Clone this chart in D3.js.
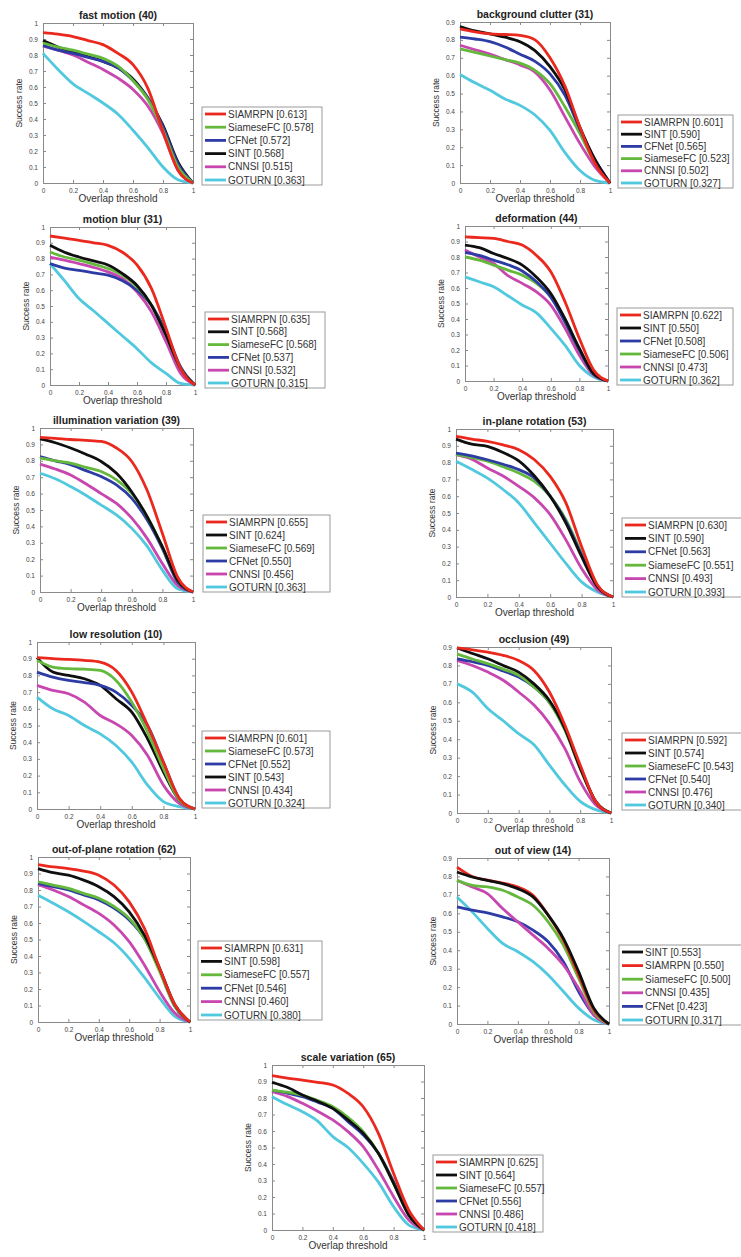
<!DOCTYPE html>
<html>
<head>
<meta charset="utf-8">
<script src="https://cdn.jsdelivr.net/npm/d3@7/dist/d3.min.js"></script>
<style>
body { margin: 0; background: #fff; }
svg { display: block; font-family: "Liberation Sans", Arial, sans-serif; }
</style>
</head>
<body>
<svg id="chart" width="741" height="1257"></svg>
<script>
// overlap thresholds sampled on the x axis
var thresholds = [0, 0.1, 0.2, 0.3, 0.4, 0.5, 0.6, 0.7, 0.8, 0.9, 1]
var xTickValues = [0, 0.2, 0.4, 0.6, 0.8, 1]

// success rate per tracker, legend order: [name, auc, values]
var fastMotion = [
	["SIAMRPN", 0.613, [0.94, 0.93, 0.915, 0.89, 0.865, 0.81, 0.74, 0.59, 0.32, 0.08, 0]],
	["SiameseFC", 0.578, [0.875, 0.85, 0.83, 0.805, 0.78, 0.73, 0.64, 0.52, 0.33, 0.10, 0]],
	["CFNet", 0.572, [0.86, 0.83, 0.81, 0.785, 0.76, 0.72, 0.64, 0.53, 0.35, 0.12, 0]],
	["SINT", 0.568, [0.89, 0.85, 0.82, 0.79, 0.76, 0.72, 0.65, 0.53, 0.36, 0.13, 0]],
	["CNNSI", 0.515, [0.855, 0.83, 0.80, 0.755, 0.71, 0.655, 0.585, 0.48, 0.31, 0.08, 0]],
	["GOTURN", 0.363, [0.81, 0.71, 0.62, 0.56, 0.50, 0.43, 0.33, 0.22, 0.10, 0.02, 0]]
]
var backgroundClutter = [
	["SIAMRPN", 0.601, [0.862, 0.845, 0.834, 0.83, 0.825, 0.80, 0.70, 0.54, 0.31, 0.11, 0]],
	["SINT", 0.590, [0.875, 0.85, 0.834, 0.815, 0.79, 0.74, 0.65, 0.52, 0.31, 0.13, 0]],
	["CFNet", 0.565, [0.816, 0.805, 0.79, 0.76, 0.72, 0.68, 0.61, 0.49, 0.30, 0.13, 0]],
	["SiameseFC", 0.523, [0.75, 0.73, 0.71, 0.69, 0.67, 0.63, 0.555, 0.425, 0.275, 0.11, 0]],
	["CNNSI", 0.502, [0.77, 0.745, 0.72, 0.69, 0.66, 0.62, 0.52, 0.37, 0.22, 0.09, 0]],
	["GOTURN", 0.327, [0.607, 0.56, 0.518, 0.47, 0.434, 0.38, 0.294, 0.17, 0.07, 0.015, 0]]
]
var motionBlur = [
	["SIAMRPN", 0.635, [0.943, 0.93, 0.916, 0.90, 0.884, 0.84, 0.76, 0.61, 0.36, 0.105, 0]],
	["SINT", 0.568, [0.884, 0.84, 0.81, 0.785, 0.76, 0.705, 0.63, 0.505, 0.315, 0.105, 0]],
	["SiameseFC", 0.568, [0.842, 0.81, 0.79, 0.765, 0.737, 0.695, 0.62, 0.505, 0.315, 0.105, 0]],
	["CFNet", 0.537, [0.768, 0.74, 0.726, 0.71, 0.695, 0.66, 0.60, 0.505, 0.337, 0.116, 0]],
	["CNNSI", 0.532, [0.81, 0.79, 0.768, 0.745, 0.716, 0.674, 0.59, 0.463, 0.274, 0.074, 0]],
	["GOTURN", 0.315, [0.768, 0.66, 0.547, 0.47, 0.39, 0.31, 0.23, 0.14, 0.074, 0.01, 0]]
]
var deformation = [
	["SIAMRPN", 0.622, [0.93, 0.925, 0.92, 0.90, 0.877, 0.81, 0.705, 0.51, 0.274, 0.07, 0]],
	["SINT", 0.550, [0.877, 0.86, 0.823, 0.79, 0.748, 0.67, 0.565, 0.40, 0.21, 0.047, 0]],
	["CFNet", 0.508, [0.83, 0.81, 0.78, 0.75, 0.71, 0.64, 0.54, 0.38, 0.20, 0.045, 0]],
	["SiameseFC", 0.506, [0.80, 0.78, 0.748, 0.715, 0.683, 0.63, 0.543, 0.38, 0.20, 0.047, 0]],
	["CNNSI", 0.473, [0.845, 0.80, 0.758, 0.68, 0.63, 0.575, 0.49, 0.34, 0.166, 0.037, 0]],
	["GOTURN", 0.362, [0.672, 0.64, 0.608, 0.55, 0.49, 0.44, 0.34, 0.23, 0.10, 0.026, 0]]
]
var illumination = [
	["SIAMRPN", 0.655, [0.943, 0.937, 0.93, 0.925, 0.918, 0.878, 0.796, 0.62, 0.357, 0.09, 0]],
	["SINT", 0.624, [0.933, 0.91, 0.878, 0.84, 0.796, 0.724, 0.61, 0.46, 0.275, 0.07, 0]],
	["SiameseFC", 0.569, [0.816, 0.80, 0.786, 0.76, 0.735, 0.684, 0.60, 0.46, 0.275, 0.07, 0]],
	["CFNet", 0.550, [0.826, 0.80, 0.776, 0.74, 0.704, 0.653, 0.571, 0.44, 0.265, 0.06, 0]],
	["CNNSI", 0.456, [0.78, 0.75, 0.714, 0.66, 0.60, 0.54, 0.45, 0.327, 0.173, 0.04, 0]],
	["GOTURN", 0.363, [0.724, 0.69, 0.643, 0.59, 0.53, 0.47, 0.388, 0.28, 0.133, 0.02, 0]]
]
var inPlane = [
	["SIAMRPN", 0.630, [0.956, 0.94, 0.926, 0.905, 0.877, 0.817, 0.718, 0.56, 0.30, 0.073, 0]],
	["SINT", 0.590, [0.94, 0.91, 0.897, 0.86, 0.81, 0.72, 0.60, 0.44, 0.24, 0.063, 0]],
	["CFNet", 0.563, [0.857, 0.84, 0.817, 0.79, 0.758, 0.708, 0.60, 0.45, 0.25, 0.063, 0]],
	["SiameseFC", 0.551, [0.847, 0.83, 0.808, 0.775, 0.738, 0.688, 0.60, 0.46, 0.26, 0.063, 0]],
	["CNNSI", 0.493, [0.847, 0.82, 0.768, 0.72, 0.659, 0.59, 0.49, 0.34, 0.17, 0.044, 0]],
	["GOTURN", 0.393, [0.808, 0.76, 0.708, 0.64, 0.56, 0.44, 0.32, 0.20, 0.09, 0.03, 0]]
]
var lowResolution = [
	["SIAMRPN", 0.601, [0.906, 0.90, 0.896, 0.89, 0.88, 0.83, 0.70, 0.50, 0.28, 0.064, 0]],
	["SiameseFC", 0.573, [0.89, 0.85, 0.84, 0.837, 0.83, 0.77, 0.64, 0.46, 0.243, 0.054, 0]],
	["CFNet", 0.552, [0.82, 0.79, 0.77, 0.757, 0.74, 0.70, 0.62, 0.50, 0.28, 0.064, 0]],
	["SINT", 0.543, [0.906, 0.82, 0.80, 0.78, 0.74, 0.66, 0.58, 0.42, 0.223, 0.054, 0]],
	["CNNSI", 0.434, [0.74, 0.71, 0.69, 0.64, 0.56, 0.51, 0.44, 0.32, 0.143, 0.034, 0]],
	["GOTURN", 0.324, [0.67, 0.60, 0.56, 0.50, 0.45, 0.38, 0.28, 0.143, 0.044, 0.014, 0]]
]
var occlusion = [
	["SIAMRPN", 0.592, [0.895, 0.885, 0.872, 0.855, 0.827, 0.773, 0.656, 0.477, 0.26, 0.063, 0]],
	["SINT", 0.574, [0.895, 0.865, 0.836, 0.80, 0.764, 0.70, 0.61, 0.459, 0.243, 0.063, 0]],
	["SiameseFC", 0.543, [0.863, 0.835, 0.81, 0.78, 0.746, 0.683, 0.60, 0.45, 0.243, 0.063, 0]],
	["CFNet", 0.540, [0.836, 0.82, 0.80, 0.77, 0.737, 0.683, 0.60, 0.459, 0.252, 0.063, 0]],
	["CNNSI", 0.476, [0.827, 0.80, 0.764, 0.72, 0.656, 0.585, 0.486, 0.35, 0.17, 0.045, 0]],
	["GOTURN", 0.340, [0.70, 0.655, 0.567, 0.50, 0.43, 0.37, 0.26, 0.153, 0.063, 0.018, 0]]
]
var outOfPlane = [
	["SIAMRPN", 0.631, [0.954, 0.94, 0.93, 0.915, 0.89, 0.83, 0.728, 0.567, 0.326, 0.105, 0]],
	["SINT", 0.598, [0.93, 0.905, 0.89, 0.86, 0.82, 0.76, 0.668, 0.527, 0.326, 0.105, 0]],
	["SiameseFC", 0.557, [0.85, 0.83, 0.81, 0.78, 0.75, 0.70, 0.628, 0.507, 0.306, 0.095, 0]],
	["CFNet", 0.546, [0.84, 0.82, 0.80, 0.77, 0.74, 0.69, 0.618, 0.507, 0.316, 0.095, 0]],
	["CNNSI", 0.460, [0.833, 0.80, 0.76, 0.71, 0.658, 0.588, 0.487, 0.346, 0.185, 0.054, 0]],
	["GOTURN", 0.380, [0.768, 0.72, 0.668, 0.61, 0.547, 0.48, 0.386, 0.27, 0.145, 0.034, 0]]
]
var outOfView = [
	["SINT", 0.553, [0.824, 0.797, 0.779, 0.761, 0.734, 0.689, 0.59, 0.464, 0.284, 0.086, 0]],
	["SIAMRPN", 0.550, [0.851, 0.80, 0.78, 0.764, 0.743, 0.698, 0.59, 0.455, 0.266, 0.077, 0]],
	["SiameseFC", 0.500, [0.779, 0.752, 0.743, 0.725, 0.689, 0.644, 0.554, 0.428, 0.248, 0.068, 0]],
	["CNNSI", 0.435, [0.779, 0.743, 0.707, 0.626, 0.554, 0.482, 0.41, 0.32, 0.194, 0.05, 0]],
	["CFNet", 0.423, [0.635, 0.617, 0.603, 0.581, 0.554, 0.509, 0.446, 0.338, 0.176, 0.05, 0]],
	["GOTURN", 0.317, [0.689, 0.608, 0.518, 0.437, 0.392, 0.338, 0.266, 0.176, 0.086, 0.023, 0]]
]
var scaleVariation = [
	["SIAMRPN", 0.625, [0.935, 0.92, 0.909, 0.895, 0.879, 0.828, 0.747, 0.586, 0.343, 0.12, 0]],
	["SINT", 0.564, [0.895, 0.865, 0.818, 0.78, 0.737, 0.667, 0.586, 0.465, 0.283, 0.09, 0]],
	["SiameseFC", 0.557, [0.848, 0.835, 0.818, 0.785, 0.747, 0.683, 0.596, 0.465, 0.283, 0.09, 0]],
	["CFNet", 0.556, [0.848, 0.83, 0.808, 0.775, 0.737, 0.657, 0.576, 0.465, 0.293, 0.10, 0]],
	["CNNSI", 0.486, [0.838, 0.81, 0.768, 0.72, 0.667, 0.596, 0.505, 0.364, 0.202, 0.06, 0]],
	["GOTURN", 0.418, [0.808, 0.76, 0.717, 0.66, 0.566, 0.50, 0.404, 0.29, 0.141, 0.03, 0]]
]

var panelTitles = ["fast motion (40)", "background clutter (31)", "motion blur (31)", "deformation (44)",
	"illumination variation (39)", "in-plane rotation (53)", "low resolution (10)", "occlusion (49)",
	"out-of-plane rotation (62)", "out of view (14)", "scale variation (65)"]
var panelSeries = [fastMotion, backgroundClutter, motionBlur, deformation, illumination, inPlane,
	lowResolution, occlusion, outOfPlane, outOfView, scaleVariation]
var panelYMax = [1, 0.9, 1, 1, 1, 1, 1, 0.9, 1, 0.9, 1]

// styles
var colors = {SIAMRPN: "rgb(235, 40, 30)", SINT: "rgb(15, 15, 15)", CFNet: "rgb(45, 60, 165)",
	SiameseFC: "rgb(100, 185, 60)", CNNSI: "rgb(200, 70, 175)", GOTURN: "rgb(80, 200, 222)"}

// layout of each axes box and legend box (pixels)
var boxes = [
	{x0: 43, x1: 193, yTop: 23, yBot: 183, lx: 202, ly: 107, lw: 120, lh: 78},
	{x0: 460, x1: 610, yTop: 22, yBot: 183, lx: 618, ly: 115, lw: 115, lh: 73},
	{x0: 50, x1: 195, yTop: 227, yBot: 385, lx: 205, ly: 312, lw: 120, lh: 76},
	{x0: 465, x1: 608, yTop: 226, yBot: 381, lx: 617, ly: 308, lw: 116, lh: 77},
	{x0: 40, x1: 193, yTop: 428, yBot: 592, lx: 203, ly: 515, lw: 127, lh: 77},
	{x0: 456, x1: 613, yTop: 429, yBot: 597, lx: 622, ly: 518, lw: 125, lh: 79},
	{x0: 37, x1: 195, yTop: 642, yBot: 809, lx: 202, ly: 731, lw: 128, lh: 77},
	{x0: 457, x1: 611, yTop: 647, yBot: 813, lx: 622, ly: 733, lw: 125, lh: 77},
	{x0: 38, x1: 190, yTop: 857, yBot: 1022, lx: 198, ly: 941, lw: 124, lh: 79},
	{x0: 457, x1: 609, yTop: 858, yBot: 1024, lx: 619, ly: 945, lw: 125, lh: 80},
	{x0: 272, x1: 424, yTop: 1065, yBot: 1230, lx: 433, ly: 1155, lw: 110, lh: 77}
]

var svg = d3.select("#chart")
svg.append("rect").attr("width", 741).attr("height", 1257).attr("fill", "#fff")

panelSeries.forEach(function(series, i) {
	var b = boxes[i]
	var yMax = panelYMax[i]
	var xScale = d3.scaleLinear().domain([0, 1]).range([b.x0, b.x1])
	var yScale = d3.scaleLinear().domain([0, yMax]).range([b.yBot, b.yTop])
	var yTickValues = d3.range(0, Math.round(yMax * 10) + 1).map(k => k / 10)
	var fmt = v => v === 0 ? "0" : (v === 1 ? "1" : v.toFixed(1))

	var g = svg.append("g").attr("class", "panel")

	// axes, ticks pointing inward on all four sides
	g.append("g").attr("transform", "translate(0," + b.yBot + ")")
		.call(d3.axisBottom(xScale).tickValues(xTickValues).tickSizeInner(-3).tickSizeOuter(0).tickPadding(5).tickFormat(fmt))
	g.append("g").attr("transform", "translate(0," + b.yTop + ")")
		.call(d3.axisTop(xScale).tickValues(xTickValues).tickSizeInner(-3).tickSizeOuter(0).tickFormat(""))
	g.append("g").attr("transform", "translate(" + b.x0 + ",0)")
		.call(d3.axisLeft(yScale).tickValues(yTickValues).tickSizeInner(-3).tickSizeOuter(0).tickPadding(5).tickFormat(fmt))
	g.append("g").attr("transform", "translate(" + b.x1 + ",0)")
		.call(d3.axisRight(yScale).tickValues(yTickValues).tickSizeInner(-3).tickSizeOuter(0).tickFormat(""))

	g.selectAll(".domain").attr("stroke", "#8a8a8a")
	g.selectAll(".tick line").attr("stroke", "#8a8a8a")
	g.selectAll(".tick text").attr("font-size", "6.5px").attr("fill", "#444").attr("font-family", "Liberation Sans, Arial, sans-serif")

	// curves, first legend entry on top
	var line = d3.line()
		.x((d, k) => xScale(thresholds[k]))
		.y(d => yScale(d))
		.curve(d3.curveMonotoneX)
	g.selectAll("path.curve")
		.data(series.slice().reverse())
		.enter()
		.append("path")
		.attr("class", "curve")
		.attr("d", d => line(d[2]))
		.attr("fill", "none")
		.attr("stroke", d => colors[d[0]])
		.attr("stroke-width", 2.8)
		.attr("stroke-linejoin", "round")

	// titles and labels
	g.append("text")
		.attr("x", (b.x0 + b.x1) / 2).attr("y", b.yTop - 4)
		.attr("text-anchor", "middle").attr("font-size", "10.5px").attr("font-weight", "bold")
		.attr("fill", "#222").text(panelTitles[i])
	g.append("text")
		.attr("x", (b.x0 + b.x1) / 2).attr("y", b.yBot + 19)
		.attr("text-anchor", "middle").attr("font-size", "10px").attr("fill", "#333")
		.text("Overlap threshold")
	g.append("text")
		.attr("transform", "translate(" + (b.x0 - 21) + "," + ((b.yTop + b.yBot) / 2) + ") rotate(-90)")
		.attr("text-anchor", "middle").attr("font-size", "8.5px").attr("fill", "#333")
		.text("Success rate")

	// legend
	var lg = g.append("g").attr("transform", "translate(" + b.lx + "," + b.ly + ")")
	lg.append("rect").attr("width", b.lw).attr("height", b.lh)
		.attr("fill", "#fff").attr("stroke", "#9a9a9a").attr("stroke-width", 1)
	var rowH = (b.lh - 12) / 5
	var items = lg.selectAll("g.item").data(series).enter().append("g")
		.attr("class", "item")
		.attr("transform", (d, k) => "translate(0," + (7 + k * rowH) + ")")
	items.append("line").attr("x1", 3).attr("x2", 24).attr("y1", 0).attr("y2", 0)
		.attr("stroke", d => colors[d[0]]).attr("stroke-width", 2.8)
	items.append("text").attr("x", 26).attr("y", 3.5)
		.attr("font-size", "10px").attr("fill", "#333")
		.text(d => d[0] + " [" + d[1].toFixed(3) + "]")
})
</script>
</body>
</html>
